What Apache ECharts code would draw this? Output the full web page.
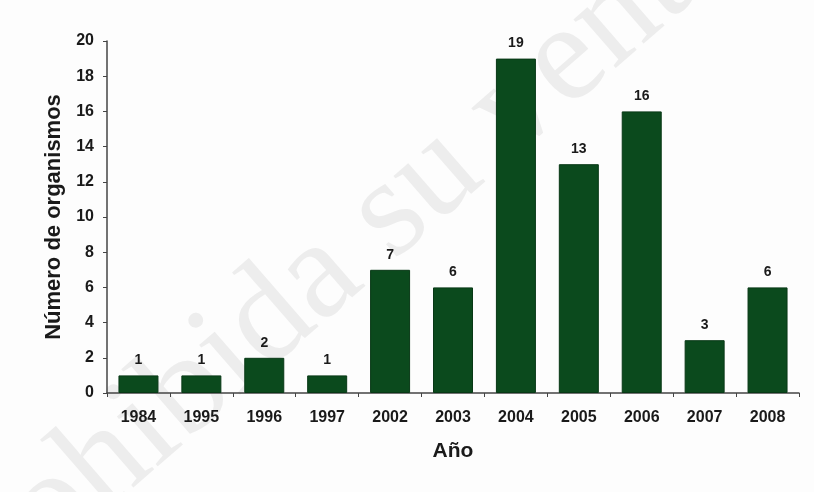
<!DOCTYPE html>
<html><head><meta charset="utf-8">
<script src="https://cdn.jsdelivr.net/npm/echarts@6/dist/echarts.min.js"></script>
<style>html,body{margin:0;padding:0;background:#fdfdfd}#c{width:814px;height:492px}</style>
</head><body><div id="c"></div>
<script>
const categories = ['1984','1995','1996','1997','2002','2003','2004','2005','2006','2007','2008'];
const values = [1,1,2,1,7,6,19,13,16,3,6];
const yTicks = [0,2,4,6,8,10,12,14,16,18,20];

const chart = echarts.init(document.getElementById('c'));
const font = '"Liberation Sans", Arial, sans-serif';
chart.setOption({
  backgroundColor: '#fdfdfd',
  animation: false,
  graphic: [{
    type: 'text', z: -1, silent: true,
    rotation: 0.716, originX: 325, originY: 272,
    style: {
      text: 'Prohibida su venta', x: 325, y: 272, align: 'center', verticalAlign: 'middle',
      font: '140px "Liberation Serif", serif',
      fill: '#ededed'
    }
  }],
  grid: { left: 107, right: 15, top: 41, bottom: 99 },
  xAxis: {
    type: 'category', data: categories,
    name: 'Año', nameLocation: 'middle', nameGap: 48,
    nameTextStyle: { fontFamily: font, fontWeight: 'bold', fontSize: 21, color: '#1a1a1a' },
    axisLine: { lineStyle: { color: '#444', width: 1.5 } },
    axisTick: { show: true, length: 4, lineStyle: { color: '#444' } },
    axisLabel: { fontFamily: font, fontWeight: 'bold', fontSize: 16, color: '#1a1a1a', margin: 17 }
  },
  yAxis: {
    type: 'value', min: 0, max: 20, interval: 2,
    name: 'Número de organismos', nameLocation: 'middle', nameGap: 41,
    nameTextStyle: { fontFamily: font, fontWeight: 'bold', fontSize: 22, color: '#1a1a1a' },
    axisLine: { show: true, lineStyle: { color: '#444', width: 1.5 } },
    axisTick: { show: true, length: 4, lineStyle: { color: '#444' } },
    splitLine: { show: false },
    axisLabel: { fontFamily: font, fontWeight: 'bold', fontSize: 16, color: '#1a1a1a', margin: 13,
      formatter: v => yTicks.includes(v) ? String(v) : '' }
  },
  series: [{
    type: 'bar', data: values, barWidth: 40,
    itemStyle: { color: '#0b4a1d', borderColor: '#083816', borderWidth: 1 },
    label: { show: true, position: 'top', distance: 8, fontFamily: font, fontWeight: 'bold', fontSize: 14, color: '#1a1a1a' }
  }]
});
</script></body></html>
